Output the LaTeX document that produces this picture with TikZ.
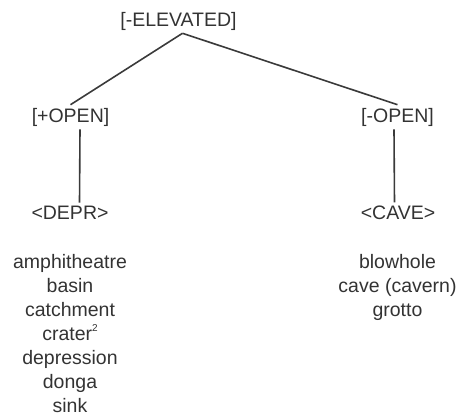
\documentclass[tikz,border=0pt]{standalone}
\usepackage{fontspec}
\setmainfont{Liberation Sans}
\usepackage{xcolor}
\usepackage{tikz}
\usetikzlibrary{positioning}
\definecolor{treeink}{HTML}{333333}
\definecolor{treeline}{HTML}{3A3A3A}

\begin{document}
\begin{tikzpicture}[
        x=1pt, y=-1pt,
        every node/.style={font=\fontsize{19.5}{24}\selectfont, text=treeink},
        feat/.style={inner sep=3pt},
        branch/.style={draw=treeline, line width=1.6pt},
        words/.style={align=center, anchor=north, inner sep=0pt}
    ]
    \useasboundingbox (0,0) rectangle (461,419);

    % =============== feature nodes ===============
    \node[feat] (elev)  at (178.5,21)  {[-ELEVATED]};
    \node[feat] (openp) at (70.5,117)  {[+OPEN]};
    \node[feat] (openm) at (397.5,117) {[-OPEN]};
    \node[feat] (depr)  at (70,212.5)  {<DEPR>};
    \node[feat] (cave)  at (398,212.5) {<CAVE>};

    % =============== branches ===============
    \draw[branch] ([xshift=4pt]elev.south) -- (openp.north);
    \draw[branch] ([xshift=4pt]elev.south) -- (openm.north);
    \draw[branch] ([xshift=9.5pt]openp.south) -- ([xshift=9.5pt]depr.north);
    \draw[branch] ([xshift=-3.5pt]openm.south) -- ([xshift=-3.5pt]cave.north);

    % =============== word lists ===============
    \node[words] (deprlist) at (70,254)
    {amphitheatre\\basin\\catchment\\crater\raisebox{0.9ex}{\fontsize{10}{10}\selectfont 2}\\depression\\donga\\sink};
    \node[words] (cavelist) at (397.5,254)
    {blowhole\\cave (cavern)\\grotto};

\end{tikzpicture}
\end{document}
